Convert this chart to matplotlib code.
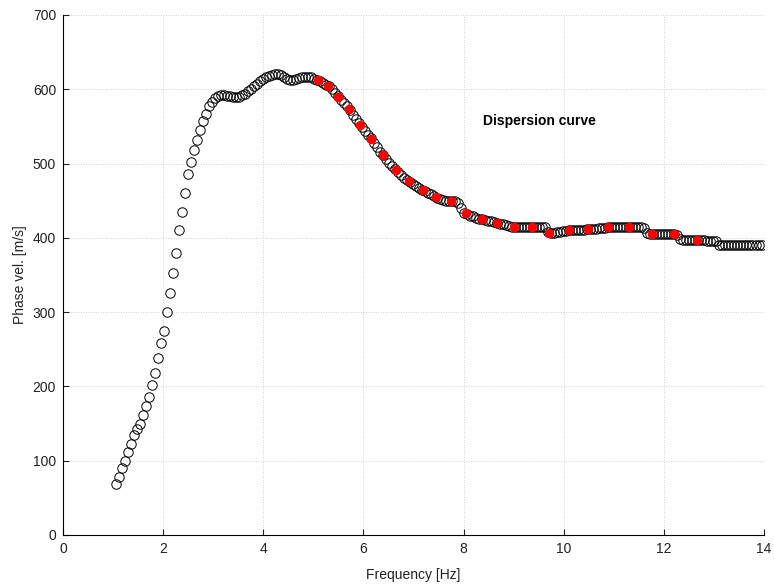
import matplotlib
matplotlib.use("Agg")
import matplotlib.pyplot as plt

plt.rcParams['font.family'] = ['Liberation Sans', 'DejaVu Sans']

# all picked points of the dispersion curve (open circles)
freq = [
    1.05, 1.11, 1.17, 1.23, 1.29, 1.35, 1.41, 1.47, 1.53, 1.59,
    1.65, 1.71, 1.77, 1.83, 1.89, 1.95, 2.01, 2.07, 2.13, 2.19,
    2.25, 2.31, 2.37, 2.43, 2.49, 2.55, 2.61, 2.67, 2.73, 2.79,
    2.85, 2.91, 2.97, 3.03, 3.09, 3.15, 3.21, 3.27, 3.33, 3.39,
    3.45, 3.51, 3.57, 3.63, 3.69, 3.75, 3.81, 3.87, 3.93, 3.99,
    4.05, 4.11, 4.17, 4.23, 4.29, 4.35, 4.41, 4.47, 4.53, 4.59,
    4.65, 4.71, 4.77, 4.83, 4.89, 4.95, 5.01, 5.07, 5.13, 5.19,
    5.25, 5.31, 5.37, 5.43, 5.49, 5.55, 5.61, 5.67, 5.73, 5.79,
    5.85, 5.91, 5.97, 6.03, 6.09, 6.15, 6.21, 6.27, 6.33, 6.39,
    6.45, 6.51, 6.57, 6.63, 6.69, 6.75, 6.81, 6.87, 6.93, 6.99,
    7.05, 7.11, 7.17, 7.23, 7.29, 7.35, 7.41, 7.47, 7.53, 7.59,
    7.65, 7.71, 7.77, 7.83, 7.89, 7.95, 8.01, 8.07, 8.13, 8.19,
    8.25, 8.31, 8.37, 8.43, 8.49, 8.55, 8.61, 8.67, 8.73, 8.79,
    8.85, 8.91, 8.97, 9.03, 9.09, 9.15, 9.21, 9.27, 9.33, 9.39,
    9.45, 9.51, 9.57, 9.63, 9.69, 9.75, 9.81, 9.87, 9.93, 9.99,
    10.05, 10.11, 10.17, 10.23, 10.29, 10.35, 10.41, 10.47, 10.53, 10.59,
    10.65, 10.71, 10.77, 10.83, 10.89, 10.95, 11.01, 11.07, 11.13, 11.19,
    11.25, 11.31, 11.37, 11.43, 11.49, 11.55, 11.61, 11.67, 11.73, 11.79,
    11.85, 11.91, 11.97, 12.03, 12.09, 12.15, 12.21, 12.27, 12.33, 12.39,
    12.45, 12.51, 12.57, 12.63, 12.69, 12.75, 12.81, 12.87, 12.93, 12.99,
    13.05, 13.11, 13.17, 13.23, 13.29, 13.35, 13.41, 13.47, 13.53, 13.59,
    13.65, 13.71, 13.77, 13.83, 13.89, 13.95,
]
vel = [
    69, 78, 90, 100, 112, 122, 134, 143, 150, 161,
    173, 186, 202, 218, 238, 258, 274, 300, 326, 352,
    380, 411, 435, 460, 486, 502, 518, 532, 545, 557,
    567, 577, 583, 588, 591, 592, 592, 591, 591, 590,
    590, 590, 592, 594, 597, 600, 604, 607, 611, 614,
    616, 618, 619, 620, 620, 619, 616, 614, 613, 613,
    614, 615, 616, 617, 617, 616, 614, 612, 611, 608,
    606, 604, 600, 595, 591, 586, 581, 577, 572, 566,
    560, 554, 549, 544, 539, 534, 528, 522, 516, 511,
    506, 501, 497, 492, 488, 485, 481, 478, 475, 472,
    470, 467, 465, 463, 461, 459, 456, 454, 452, 451,
    450, 450, 450, 449, 447, 440, 434, 432, 430, 429,
    427, 426, 425, 424, 423, 422, 421, 420, 419, 418,
    417, 416, 415, 415, 414, 414, 414, 414, 414, 414,
    414, 415, 415, 414, 408, 407, 407, 408, 408, 409,
    409, 410, 410, 410, 411, 411, 411, 412, 412, 412,
    412, 413, 413, 413, 414, 414, 414, 414, 414, 414,
    414, 414, 414, 414, 414, 414, 413, 406, 405, 405,
    405, 405, 405, 405, 405, 405, 405, 404, 398, 397,
    397, 397, 397, 397, 397, 397, 397, 396, 396, 396,
    396, 391, 390, 390, 390, 390, 390, 390, 390, 390,
    390, 390, 390, 390, 390, 390,
]

# selected points used for inversion (red dots)
sel_freq = [5.10, 5.30, 5.50, 5.71, 5.93, 6.16, 6.39, 6.65, 6.91, 7.18,
            7.45, 7.74, 8.04, 8.36, 8.66, 9.01, 9.36, 9.71, 10.11, 10.49,
            10.89, 11.31, 11.76, 12.20, 12.67]
sel_vel = [612, 604, 590, 574, 552, 533, 511, 491, 476, 465,
           455, 450, 433, 425, 420, 415, 414, 407, 410, 412,
           414, 415, 405, 405, 397]

fig = plt.figure(figsize=(7.74, 5.85), dpi=100)
ax = fig.add_axes([0.0814, 0.0855, 0.9057, 0.8889])

ax.plot(freq, vel, 'o', mfc='none', mec='black', ms=6.8, mew=0.7)
ax.plot(sel_freq, sel_vel, 'o', color='red', mec='red', ms=6.8, mew=0)

ax.set_xlim(0, 14)
ax.set_ylim(0, 700)
ax.set_xticks(range(0, 15, 2))
ax.set_yticks(range(0, 701, 100))
ax.grid(True, linestyle=(0, (1, 2)), color='#c4c4c4', linewidth=0.6)
ax.set_axisbelow(True)

for s in ['top', 'right']:
    ax.spines[s].set_visible(False)
ax.spines['left'].set_linewidth(0.8)
ax.spines['bottom'].set_linewidth(0.8)
ax.tick_params(direction='in', length=4, width=0.8, labelsize=10, pad=5,
               colors='#222222')

ax.set_xlabel('Frequency [Hz]', fontsize=10, labelpad=9, color='#222222')
ax.set_ylabel('Phase vel. [m/s]', fontsize=10, labelpad=4, color='#222222')

ax.text(8.39, 557, 'Dispersion curve', fontsize=10, fontweight='bold',
        ha='left', va='center')

fig.savefig('out.png', dpi=100)
